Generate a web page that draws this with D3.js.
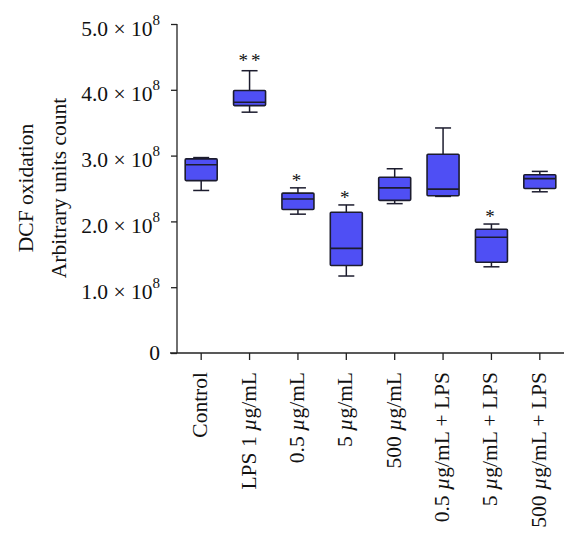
<!DOCTYPE html>
<html><head><meta charset="utf-8">
<script src="https://cdn.jsdelivr.net/npm/d3@7"></script>
<style>
html,body{margin:0;padding:0;background:#fff;}
text{font-family:"Liberation Serif","DejaVu Serif",serif;fill:#111;}
</style></head>
<body><svg id="c" width="578" height="538"></svg>
<script>
const categories = ["Control","LPS 1 µg/mL","0.5 µg/mL","5 µg/mL","500 µg/mL","0.5 µg/mL + LPS","5 µg/mL + LPS","500 µg/mL + LPS"];
const whiskerLow  = [2.47e8, 3.66e8, 2.11e8, 1.17e8, 2.27e8, 2.38e8, 1.31e8, 2.45e8];
const q1          = [2.62e8, 3.76e8, 2.18e8, 1.33e8, 2.32e8, 2.39e8, 1.38e8, 2.50e8];
const medians     = [2.86e8, 3.81e8, 2.34e8, 1.59e8, 2.51e8, 2.49e8, 1.76e8, 2.65e8];
const q3          = [2.95e8, 3.99e8, 2.43e8, 2.14e8, 2.67e8, 3.02e8, 1.88e8, 2.71e8];
const whiskerHigh = [2.97e8, 4.29e8, 2.51e8, 2.25e8, 2.80e8, 3.42e8, 1.96e8, 2.76e8];
const significance = ["", "**", "*", "*", "", "", "*", ""];
const yTicks = [0, 1e8, 2e8, 3e8, 4e8, 5e8];
const yTickMantissa = ["0", "1.0", "2.0", "3.0", "4.0", "5.0"];

const svg = d3.select("#c");
const x = d3.scaleBand().domain(categories).range([177, 564]).padding(0);
const y = d3.scaleLinear().domain([0, 5e8]).range([353, 24]);
const boxW = 32;
const stroke = "#1c1c2e";
const fill = "#4f4ff4";
const fs = "21.5px";

// Y axis
const yAxis = d3.axisLeft(y).tickValues(yTicks).tickSize(6).tickFormat(() => "");
const gy = svg.append("g").attr("transform", "translate(177,0)").call(yAxis);
gy.selectAll("path, line").attr("stroke", "#222").attr("stroke-width", 1.3);
gy.select(".domain").attr("d", `M0,${y(5e8)}V${y(0)}`);
gy.selectAll(".tick").each(function(d, i) {
  const t = d3.select(this).append("text")
    .attr("x", -17).attr("y", i === 0 ? 6.5 : 11)
    .attr("text-anchor", "end")
    .style("font-size", fs).attr("fill", "#111");
  if (i === 0) { t.text("0"); }
  else {
    t.append("tspan").text(yTickMantissa[i] + " × 10");
    t.append("tspan").attr("dy", -11).style("font-size", "15px").text("8");
  }
});

// X axis
const xAxis = d3.axisBottom(x).tickSize(7).tickFormat(() => "");
const gx = svg.append("g").attr("transform", "translate(0,353)").call(xAxis);
gx.selectAll("path, line").attr("stroke", "#222").attr("stroke-width", 1.3);
gx.select(".domain").attr("d", `M170,0H564`);
gx.selectAll(".tick").each(function(d) {
  const t = d3.select(this).append("text")
    .attr("transform", "rotate(-90)")
    .attr("x", -19).attr("y", 6)
    .attr("text-anchor", "end")
    .style("font-size", fs).attr("fill", "#111");
  const parts = d.split("µ");
  t.append("tspan").text(parts[0]);
  if (parts.length > 1) {
    t.append("tspan").style("font-style", "italic").text("µ");
    t.append("tspan").text(parts[1]);
  }
});

// Boxes
const g = svg.append("g");
categories.forEach((c, i) => {
  const cx = x(c) + x.bandwidth() / 2;
  const bx = g.append("g");
  bx.append("line").attr("x1", cx).attr("x2", cx).attr("y1", y(whiskerHigh[i])).attr("y2", y(q3[i]))
    .attr("stroke", stroke).attr("stroke-width", 1.5);
  bx.append("line").attr("x1", cx).attr("x2", cx).attr("y1", y(q1[i])).attr("y2", y(whiskerLow[i]))
    .attr("stroke", stroke).attr("stroke-width", 1.5);
  bx.append("line").attr("x1", cx - 8).attr("x2", cx + 8).attr("y1", y(whiskerHigh[i])).attr("y2", y(whiskerHigh[i]))
    .attr("stroke", stroke).attr("stroke-width", 1.5);
  bx.append("line").attr("x1", cx - 8).attr("x2", cx + 8).attr("y1", y(whiskerLow[i])).attr("y2", y(whiskerLow[i]))
    .attr("stroke", stroke).attr("stroke-width", 1.5);
  bx.append("rect").attr("x", cx - boxW / 2).attr("width", boxW)
    .attr("y", y(q3[i])).attr("height", y(q1[i]) - y(q3[i]))
    .attr("fill", fill).attr("stroke", stroke).attr("stroke-width", 1.6).attr("rx", 1);
  bx.append("line").attr("x1", cx - boxW / 2).attr("x2", cx + boxW / 2).attr("y1", y(medians[i])).attr("y2", y(medians[i]))
    .attr("stroke", stroke).attr("stroke-width", 1.6);
  if (significance[i]) {
    bx.append("text").attr("x", cx).attr("dx", significance[i].length > 1 ? 1.5 : 0)
      .attr("y", y(whiskerHigh[i]) - (significance[i].length > 1 ? 4 : 1))
      .attr("text-anchor", "middle").style("font-size", "19px")
      .attr("letter-spacing", "3px")
      .text(significance[i]);
  }
});

// Y label
const yl = svg.append("text").attr("transform", "translate(0,188) rotate(-90)")
  .attr("text-anchor", "middle").style("font-size", fs);
yl.append("tspan").attr("x", 0).attr("y", 33).text("DCF oxidation");
yl.append("tspan").attr("x", 0).attr("y", 66).text("Arbitrary units count");
</script></body></html>
